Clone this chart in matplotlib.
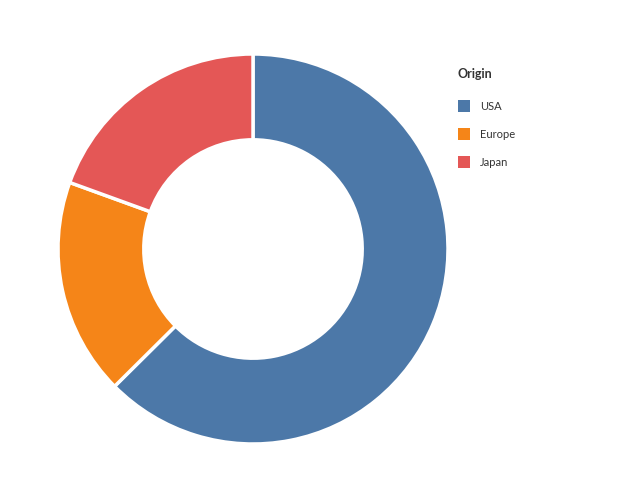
import matplotlib
matplotlib.use('Agg')
import matplotlib.pyplot as plt
from matplotlib.patches import Rectangle

# === Données ===
origines = ["USA", "Europe", "Japan"]
nombres = [254, 73, 79]
couleurs = ["#4c78a8", "#f58518", "#e45756"]

plt.rcParams['font.family'] = ['Lato', 'DejaVu Sans']

fig = plt.figure(figsize=(6.4, 5), dpi=100)
ax = fig.add_axes([(253 - 195) / 640, (251 - 195) / 500, 390 / 640, 390 / 500])
ax.pie(nombres, colors=couleurs, startangle=90, counterclock=False,
       radius=1.0, wedgeprops=dict(width=0.44, edgecolor="white", linewidth=2.5))
ax.set_xlim(-1, 1)
ax.set_ylim(-1, 1)
ax.set_aspect('equal')
ax.axis('off')

# Légende
fig.text(458 / 640, 1 - 74 / 500, "Origin", fontsize=9, fontweight='bold',
         color="#333333", va='center', ha='left')
for i, (nom, c) in enumerate(zip(origines, couleurs)):
    y = 106 + 28 * i
    fig.patches.append(Rectangle((458 / 640, 1 - (y + 6) / 500), 12 / 640, 12 / 500,
                                 transform=fig.transFigure, facecolor=c, edgecolor='none'))
    fig.text(480 / 640, 1 - y / 500, nom, fontsize=8, color="#333333",
             va='center', ha='left')

fig.savefig("out.png", dpi=100)
